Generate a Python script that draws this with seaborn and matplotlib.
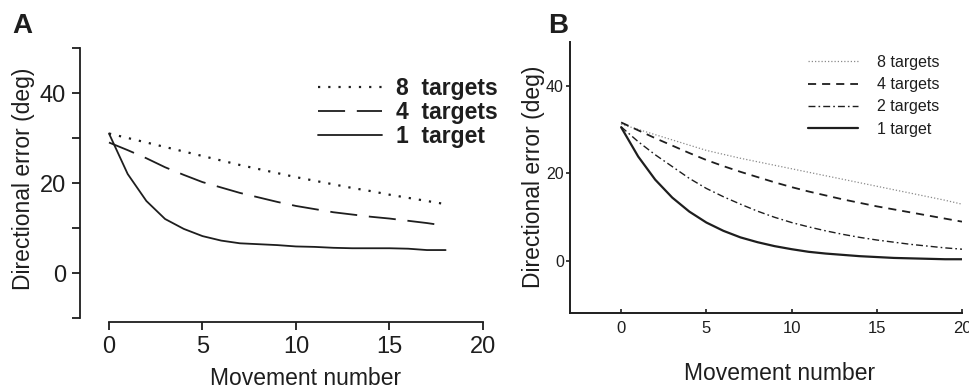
import numpy as np
import pandas as pd
import seaborn as sns
import matplotlib
matplotlib.use("Agg")
import matplotlib.pyplot as plt

# panel A: measured learning curves (movements 0..18)
moves_a = list(range(19))
a_8 = [31.0, 30.0, 29.0, 28.0, 27.0, 26.0, 25.0, 24.0, 23.1, 22.2, 21.3,
       20.5, 19.7, 18.9, 18.2, 17.4, 16.7, 16.0, 15.3]
a_4 = [29.0, 27.3, 25.5, 23.5, 21.8, 20.2, 19.0, 17.8, 16.8, 15.8, 14.9,
       14.2, 13.5, 13.0, 12.5, 12.1, 11.6, 11.1, 10.5]
a_1 = [31.0, 22.0, 16.0, 12.0, 9.8, 8.2, 7.2, 6.6, 6.4, 6.2, 5.9,
       5.8, 5.6, 5.5, 5.5, 5.5, 5.4, 5.1, 5.1]

# panel B: model curves (movements 0..20)
moves_b = list(range(21))
b_8 = [31.2, 30.0, 28.8, 27.6, 26.4, 25.2, 24.3, 23.4, 22.6, 21.8, 21.0,
       20.2, 19.4, 18.6, 17.8, 17.0, 16.2, 15.4, 14.6, 13.8, 12.9]
b_4 = [31.6, 29.8, 28.0, 26.3, 24.6, 23.0, 21.6, 20.3, 19.1, 17.9, 16.8,
       15.8, 14.9, 14.0, 13.2, 12.4, 11.7, 11.0, 10.3, 9.6, 8.9]
b_2 = [30.6, 27.2, 24.2, 21.5, 18.8, 16.5, 14.6, 12.9, 11.3, 9.9, 8.7,
       7.7, 6.8, 6.0, 5.3, 4.7, 4.2, 3.7, 3.3, 2.9, 2.6]
b_1 = [30.5, 23.8, 18.5, 14.4, 11.2, 8.7, 6.8, 5.3, 4.2, 3.3, 2.6,
       2.0, 1.6, 1.3, 1.0, 0.8, 0.6, 0.5, 0.4, 0.3, 0.3]

labels_a = ["8  targets", "4  targets", "1  target"]
labels_b = ["8 targets", "4 targets", "2 targets", "1 target"]

sns.set_style("ticks")
plt.rcParams['font.family'] = ['Liberation Sans', 'DejaVu Sans']

W, H = 970, 388
fig = plt.figure(figsize=(9.7, 3.88), dpi=100)

def px_axes(l, t, r, b):
    return fig.add_axes([l / W, 1 - b / H, (r - l) / W, (b - t) / H])

ink = "#1e1e1e"

# ---------------- panel A ----------------
axA = px_axes(80, 48, 483, 318)
styles_a = [((0, (1, 3.6)), 1.6), ((0, (15, 6.5)), 1.3), ("-", 1.3)]
for vals, lab, (ls, lw) in zip([a_8, a_4, a_1], labels_a, styles_a):
    df = pd.DataFrame({"move": moves_a, "err": vals})
    sns.lineplot(data=df, x="move", y="err", ax=axA, color=ink,
                 linestyle=ls, lw=lw, label=lab)
axA.set_xlim(-1.55, 20)
axA.set_ylim(-10, 50)
axA.set_xticks([0, 5, 10, 15, 20])
axA.set_yticks([-10, 0, 10, 20, 30, 40, 50])
axA.set_yticklabels(["", "0", "", "20", "", "40", ""])
sns.despine(ax=axA)
axA.spines['bottom'].set_position(('outward', 3))
axA.spines['bottom'].set_bounds(0, 20)
for s in ['left', 'bottom']:
    axA.spines[s].set_linewidth(1.3)
    axA.spines[s].set_color(ink)
axA.tick_params(axis='both', direction='out', length=6, width=1.3,
                labelsize=17, color=ink, labelcolor=ink)
axA.tick_params(axis='x', pad=4)
axA.tick_params(axis='y', pad=4)
axA.set_xlabel("Movement number", fontsize=16.5, color=ink)
axA.set_ylabel("Directional error (deg)", fontsize=16.5, color=ink)
axA.xaxis.set_label_coords(0.56, -0.18)
axA.yaxis.set_label_coords(-0.112, 0.515)
legA = axA.legend(loc='upper left', bbox_to_anchor=(318 / W, 1 - 77 / H),
                  bbox_transform=fig.transFigure, frameon=False,
                  prop={'size': 16.5, 'weight': 'bold'}, handlelength=2.8,
                  handletextpad=0.6, labelspacing=0.05, borderpad=0,
                  borderaxespad=0)
for t in legA.get_texts():
    t.set_color(ink)

# ---------------- panel B ----------------
axB = px_axes(570, 42, 962, 313)
styles_b = [((0, (1, 1.6)), 0.9, "#8a8a8a"),
            ((0, (4.5, 3.3)), 1.3, ink),
            ((0, (5, 2.2, 1.2, 2.2)), 1.0, ink),
            ("-", 1.6, ink)]
for vals, lab, (ls, lw, c) in zip([b_8, b_4, b_2, b_1], labels_b, styles_b):
    df = pd.DataFrame({"move": moves_b, "err": vals})
    sns.lineplot(data=df, x="move", y="err", ax=axB, color=c,
                 linestyle=ls, lw=lw, label=lab)
axB.set_xlim(-3, 20)
axB.set_ylim(-12, 50)
axB.set_xticks([0, 5, 10, 15, 20])
axB.set_yticks([0, 20, 40])
sns.despine(ax=axB)
for s in ['left', 'bottom']:
    axB.spines[s].set_linewidth(1.4)
    axB.spines[s].set_color(ink)
axB.tick_params(axis='x', direction='in', length=3, width=1.2, pad=6,
                labelsize=12, color=ink, labelcolor=ink)
axB.tick_params(axis='y', direction='out', length=3, width=1.2, pad=1.5,
                labelsize=11.5, color=ink, labelcolor=ink)
axB.set_xlabel("Movement number", fontsize=16.5, color=ink)
axB.set_ylabel("Directional error (deg)", fontsize=16.5, color=ink)
axB.xaxis.set_label_coords(0.534, -0.18)
axB.yaxis.set_label_coords(-0.064, 0.504)
legB = axB.legend(loc='upper left', bbox_to_anchor=(808 / W, 1 - 55 / H),
                  bbox_transform=fig.transFigure, frameon=False,
                  prop={'size': 11.5}, handlelength=3.1, handletextpad=1.2,
                  labelspacing=0.45, borderpad=0, borderaxespad=0)
for t in legB.get_texts():
    t.set_color(ink)

fig.text(12 / W, 1 - 33 / H, "A", fontsize=20, fontweight='bold',
         va='baseline', ha='left', color=ink)
fig.text(548 / W, 1 - 33 / H, "B", fontsize=20, fontweight='bold',
         va='baseline', ha='left', color=ink)

fig.savefig("out.png", dpi=100)
